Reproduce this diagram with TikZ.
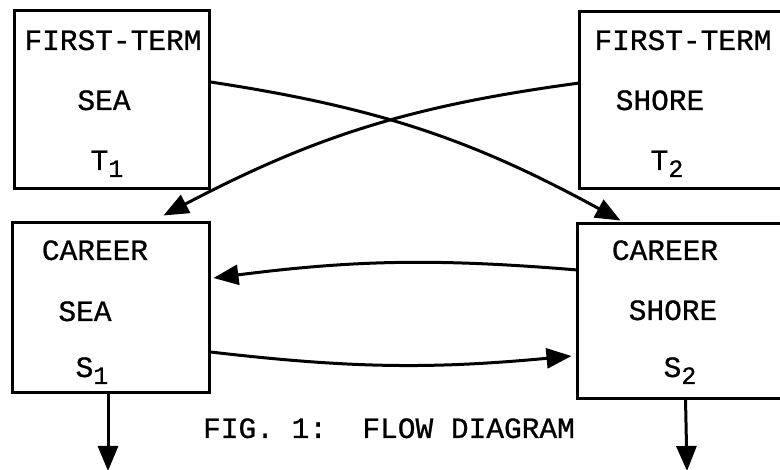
\documentclass[tikz,border=0pt]{standalone}
\usepackage{fontspec}
\setmonofont[FakeBold=0.8]{Liberation Mono}
\usetikzlibrary{calc,arrows.meta}
\tikzset{
  box/.style={draw, line width=3pt, inner sep=0pt, rectangle},
  openbox/.style={inner sep=0pt, outer sep=1.5pt, rectangle},
  boxline/.style={line width=3pt, line join=miter},
  lbl/.style={font=\ttfamily\fontsize{29.5}{31}\selectfont, inner sep=0pt, anchor=base},
  flow/.style={line width=3pt, -{Triangle[length=25pt,width=20pt]}},
}
\newcommand{\sbs}[1]{\raisebox{-7pt}{\fontsize{25}{25}\selectfont #1}}
\begin{document}
\begin{tikzpicture}[x=1pt,y=-1pt]
\useasboundingbox (0,0) rectangle (780,470);
\fill[white] (0,0) rectangle (780,470);
% boxes
\node[box, minimum width=195pt, minimum height=178pt] (T1) at (111.5,100) {};
\node[openbox, minimum width=199pt, minimum height=174pt] (T2) at (680.5,100) {};
\node[box, minimum width=197pt, minimum height=170pt] (S1) at (110.5,308) {};
\node[openbox, minimum width=201pt, minimum height=172pt] (S2) at (679.5,311) {};
\draw[boxline] (T2.north east) -- (T2.north west) -- (T2.south west) -- (T2.south east);
\draw[boxline] (S2.north east) -- (S2.north west) -- (S2.south west) -- (S2.south east);
% texts
\node[lbl] (t1a) at (113,50) {FIRST-TERM};
\node[lbl] (t1b) at (104,110) {SEA};
\node[lbl] (t1c) at (107,170) {T\sbs{1}};
\node[lbl] (t2a) at (683,50) {FIRST-TERM};
\node[lbl] (t2b) at (660,110) {SHORE};
\node[lbl] (t2c) at (667,170) {T\sbs{2}};
\node[lbl] (s1a) at (95,260) {CAREER};
\node[lbl] (s1b) at (85,321) {SEA};
\node[lbl] (s1c) at (92,377) {S\sbs{1}};
\node[lbl] (s2a) at (665,260) {CAREER};
\node[lbl] (s2b) at (673,320) {SHORE};
\node[lbl] (s2c) at (680,377) {S\sbs{2}};
\node[lbl] (cap) at (389,438) {FIG.~1:~~FLOW DIAGRAM};
% connectors
\coordinate (d1) at (108,471);
\coordinate (d2) at (687,471);
\draw[flow] ($(T1.east)+(0,-18)$) to[bend left=10] ($(S2.north west)+(43,-3)$);
\draw[flow] ($(T2.west)+(0,-17)$) to[bend right=10] ($(S1.north west)+(153,-6)$);
\draw[flow] ($(S2.west)+(0,-41)$) to[bend right=6] ($(S1.east)+(3,-30)$);
\draw[flow] ($(S1.east)+(0,44)$) to[bend right=6] ($(S2.west)+(-6,45)$);
\draw[flow] ($(S1.south)+(-2.5,0)$) -- (d1);
\draw[flow] ($(S2.south west)+(108,0)$) -- (d2);
\end{tikzpicture}
\end{document}
